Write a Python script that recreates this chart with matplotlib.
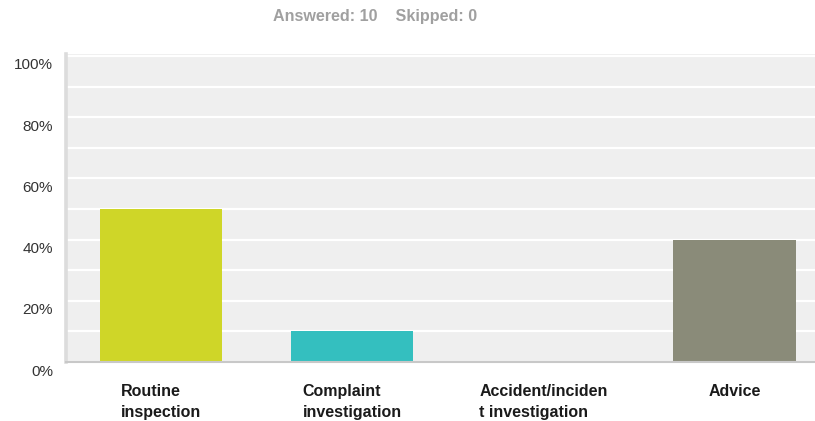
import matplotlib
matplotlib.use("Agg")
import matplotlib.pyplot as plt
import matplotlib.transforms as mtransforms

categories = ["Routine\ninspection", "Complaint\ninvestigation",
              "Accident/inciden\nt investigation", "Advice"]
values = [50, 10, 0, 40]
colors = ["#cfd628", "#34bfbf", "#e0a020", "#8a8b79"]
yticks = [0, 20, 40, 60, 80, 100]
ytick_labels = ["0%", "20%", "40%", "60%", "80%", "100%"]
header = "Answered: 10    Skipped: 0"

fig = plt.figure(figsize=(8.15, 4.21), dpi=100)
W, H = 815, 421
ax = fig.add_axes([66 / W, (H - 362) / H, (W - 66) / W, (362 - 54) / H])
ax.set_facecolor("#efefef")

x = list(range(len(categories)))
ax.bar(x, values, width=0.64, color=colors, zorder=3)

ax.set_xlim(-0.497, -0.497 + 749 / 191.2)
ax.set_ylim(0, 100.65)

# gridlines every 10%
ax.set_yticks(list(range(0, 101, 10)), minor=True)
ax.grid(axis="y", which="minor", color="white", linewidth=1.6, zorder=1)
ax.grid(axis="y", which="major", color="white", linewidth=1.6, zorder=1)
ax.grid(axis="x", visible=False)

ax.set_yticks(yticks)
ax.set_yticklabels(ytick_labels, fontsize=11, color="#333333",
                   family=["Liberation Sans", "DejaVu Sans"])
ax.tick_params(axis="y", which="both", length=0, pad=9.4)
offset = mtransforms.ScaledTranslation(0, -8 / 100, fig.dpi_scale_trans)
for lab in ax.yaxis.get_majorticklabels():
    lab.set_transform(lab.get_transform() + offset)

ax.set_xticks(x)
ax.set_xticklabels(categories, fontsize=11.5, fontweight="bold", color="#1a1a1a",
                   family=["Liberation Sans", "DejaVu Sans"],
                   linespacing=1.45)
for lab in ax.xaxis.get_majorticklabels():
    lab.set_multialignment("left")
ax.tick_params(axis="x", length=0, pad=16)

for s in ["top", "right"]:
    ax.spines[s].set_visible(False)
ax.spines["left"].set_color("#dcdcdc")
ax.spines["left"].set_linewidth(2.6)
ax.spines["bottom"].set_color("#c8c8c8")
ax.spines["bottom"].set_linewidth(1.5)
ax.spines["bottom"].set_zorder(4)

fig.text(375.5 / W, 1 - 21 / H, header, ha="center", va="baseline",
         fontsize=11.6, fontweight="bold", color="#a0a0a0",
         family=["Liberation Sans", "DejaVu Sans"])

fig.savefig("out.png", dpi=100)
